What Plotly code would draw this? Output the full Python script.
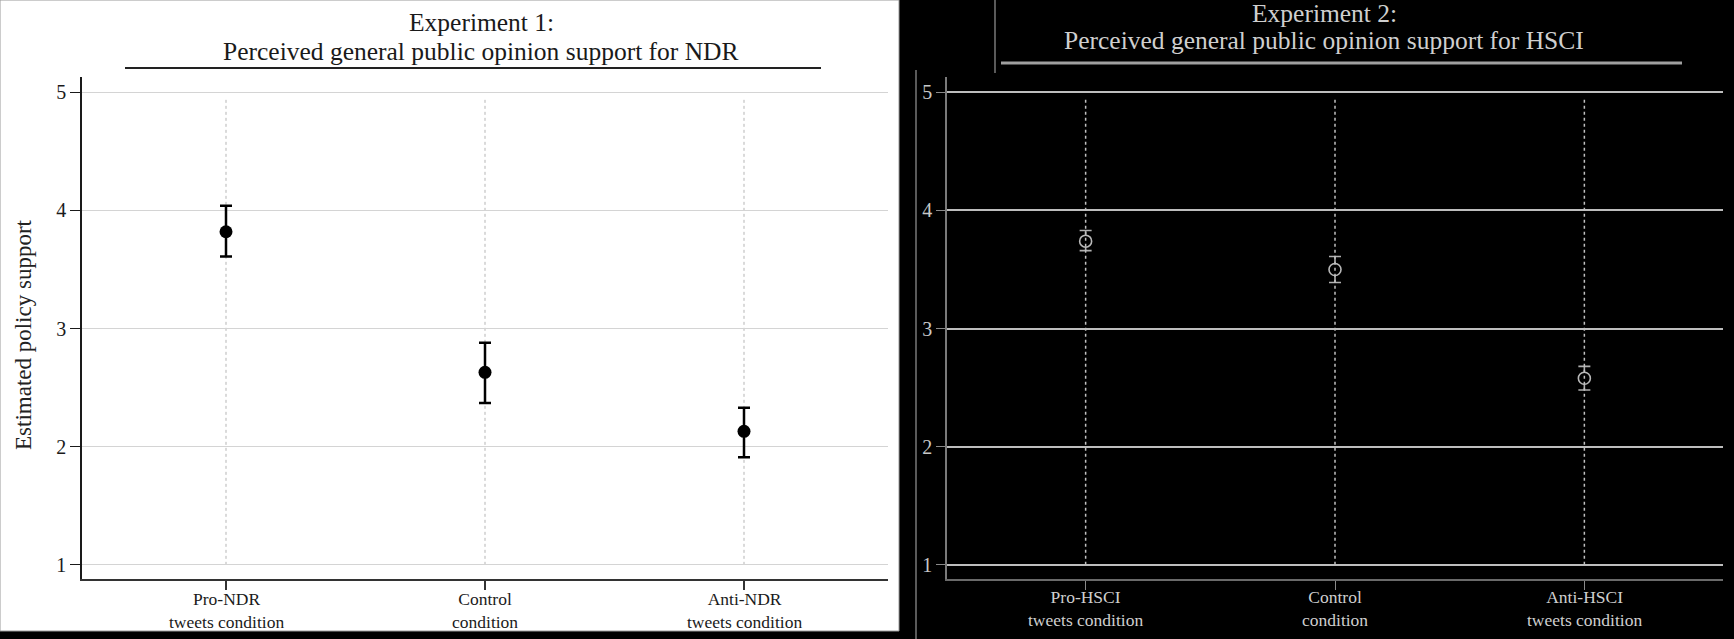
import plotly.graph_objects as go

# ---------------- data ----------------
categories_1 = ["Pro-NDR\ntweets condition", "Control\ncondition", "Anti-NDR\ntweets condition"]
estimate_1 = [3.82, 2.63, 2.13]
lower_1 = [3.61, 2.37, 1.91]
upper_1 = [4.04, 2.88, 2.33]

categories_2 = ["Pro-HSCI\ntweets condition", "Control\ncondition", "Anti-HSCI\ntweets condition"]
estimate_2 = [3.74, 3.50, 2.58]
lower_2 = [3.66, 3.39, 2.48]
upper_2 = [3.83, 3.61, 2.68]

y_ticks = [1, 2, 3, 4, 5]
title_1 = ["Experiment 1:", "Perceived general public opinion support for NDR"]
title_2 = ["Experiment 2:", "Perceived general public opinion support for HSCI"]
y_title = "Estimated policy support"

# ---------------- layout helpers ----------------
W, H = 1734, 639
FONT = "Liberation Serif"


def fx(px):
    return px / W


def fy(py):
    return 1 - py / H


pos = list(range(len(categories_1)))
XR = [-0.556, 2.556]
YR = [0.88, 5.13]

fig = go.Figure()

# experiment 1 (white panel)
fig.add_trace(go.Scatter(
    x=pos, y=estimate_1, mode="markers", xaxis="x", yaxis="y",
    marker=dict(color="black", size=13),
    error_y=dict(type="data", symmetric=False,
                 array=[u - e for u, e in zip(upper_1, estimate_1)],
                 arrayminus=[e - l for e, l in zip(estimate_1, lower_1)],
                 color="black", thickness=2.5, width=6),
    showlegend=False, hoverinfo="skip"))

# experiment 2 (black panel)
fig.add_trace(go.Scatter(
    x=pos, y=estimate_2, mode="markers", xaxis="x2", yaxis="y2",
    marker=dict(color="black", size=12, symbol="circle",
                line=dict(color="#b8b8b8", width=1.6)),
    error_y=dict(type="data", symmetric=False,
                 array=[u - e for u, e in zip(upper_2, estimate_2)],
                 arrayminus=[e - l for e, l in zip(estimate_2, lower_2)],
                 color="#b0b0b0", thickness=1.6, width=6),
    showlegend=False, hoverinfo="skip"))

shapes = []
# white panel on black page
shapes.append(dict(type="rect", xref="paper", yref="paper", x0=0, x1=fx(899), y0=fy(631), y1=1,
                   fillcolor="white", line=dict(color="#9a9a9a", width=1), layer="below"))
# stray frame lines in the black panel
shapes.append(dict(type="line", xref="paper", yref="paper", x0=fx(916), x1=fx(916), y0=fy(70), y1=0,
                   line=dict(color="#8a8a8a", width=1.3)))
shapes.append(dict(type="line", xref="paper", yref="paper", x0=fx(995), x1=fx(995), y0=1, y1=fy(73),
                   line=dict(color="#8a8a8a", width=1.3)))
# title underlines
shapes.append(dict(type="line", xref="paper", yref="paper", x0=fx(125), x1=fx(821), y0=fy(68), y1=fy(68),
                   line=dict(color="#222222", width=2)))
shapes.append(dict(type="line", xref="paper", yref="paper", x0=fx(1001), x1=fx(1682), y0=fy(63), y1=fy(63),
                   line=dict(color="#a0a0a0", width=3)))
# dotted category guide lines
for p in pos:
    shapes.append(dict(type="line", xref="x", yref="y", x0=p, x1=p, y0=min(y_ticks), y1=max(y_ticks) - 0.04,
                       line=dict(color="#b5b5b5", width=1, dash="dot"), layer="below"))
    shapes.append(dict(type="line", xref="x2", yref="y2", x0=p, x1=p, y0=min(y_ticks), y1=max(y_ticks) - 0.04,
                       line=dict(color="#c0c0c0", width=1.5, dash="dot")))

annotations = []
# titles
for t, yy in zip(title_1, [23, 52]):
    annotations.append(dict(text=t, xref="paper", yref="paper", x=fx(481), y=fy(yy),
                            xanchor="center", yanchor="middle", showarrow=False,
                            font=dict(family=FONT, size=25.5, color="#1a1a1a")))
for t, yy in zip(title_2, [14, 40]):
    annotations.append(dict(text=t, xref="paper", yref="paper", x=fx(1324), y=fy(yy),
                            xanchor="center", yanchor="middle", showarrow=False,
                            font=dict(family=FONT, size=25.5, color="#cfcfcf")))
# y-axis title (left panel)
annotations.append(dict(text=y_title, xref="paper", yref="paper", x=fx(23), y=fy(335),
                        xanchor="center", yanchor="middle", textangle=-90, showarrow=False,
                        font=dict(family=FONT, size=23, color="#222222")))
# x category labels (two lines each)
for p, lab in zip(pos, categories_1):
    annotations.append(dict(text=lab.replace("\n", "<br>"), xref="x", yref="paper", x=p, y=fy(610),
                            xanchor="center", yanchor="middle", showarrow=False,
                            font=dict(family=FONT, size=17.5, color="#1a1a1a")))
for p, lab in zip(pos, categories_2):
    annotations.append(dict(text=lab.replace("\n", "<br>"), xref="x2", yref="paper", x=p, y=fy(608),
                            xanchor="center", yanchor="middle", showarrow=False,
                            font=dict(family=FONT, size=17.5, color="#cfcfcf")))

ydom = [fy(579), fy(77)]

fig.update_layout(
    width=W, height=H, autosize=False,
    margin=dict(l=0, r=0, t=0, b=0, pad=0),
    paper_bgcolor="black", plot_bgcolor="rgba(0,0,0,0)",
    shapes=shapes, annotations=annotations,
    xaxis=dict(domain=[fx(82), fx(888)], range=XR, anchor="y",
               showgrid=False, zeroline=False, showline=True, linecolor="#333333", linewidth=2,
               ticks="outside", ticklen=9, tickcolor="#333333", tickwidth=1.5,
               tickvals=pos, showticklabels=False),
    yaxis=dict(domain=ydom, range=YR, anchor="x",
               showgrid=True, gridcolor="#d4d4d4", gridwidth=1.2, zeroline=False,
               showline=True, linecolor="#1a1a1a", linewidth=1.5,
               ticks="outside", ticklen=10, tickcolor="#1a1a1a", tickwidth=1.2,
               tickvals=y_ticks, ticktext=[str(v) for v in y_ticks],
               tickfont=dict(family=FONT, size=20, color="#1a1a1a")),
    xaxis2=dict(domain=[fx(947), fx(1723)], range=XR, anchor="y2",
                showgrid=False, zeroline=False, showline=True, linecolor="#6a6a6a", linewidth=2,
                ticks="outside", ticklen=9, tickcolor="#8a8a8a", tickwidth=1.2,
                tickvals=pos, showticklabels=False),
    yaxis2=dict(domain=ydom, range=YR, anchor="x2",
                showgrid=True, gridcolor="#bdbdbd", gridwidth=2.2, zeroline=False,
                showline=True, linecolor="#7a7a7a", linewidth=1.5,
                ticks="outside", ticklen=9, tickcolor="#8a8a8a", tickwidth=1.2,
                tickvals=y_ticks, ticktext=[str(v) for v in y_ticks],
                tickfont=dict(family=FONT, size=20, color="#c8c8c8")),
)

fig.write_html("out.html", config={"displayModeBar": False})

# remove the browser's default page margin so the figure sits at (0, 0)
with open("out.html", "r", encoding="utf-8") as f:
    html = f.read()
html = html.replace("<body>", '<body style="margin:0;padding:0;background:black;overflow:hidden">', 1)
with open("out.html", "w", encoding="utf-8") as f:
    f.write(html)
